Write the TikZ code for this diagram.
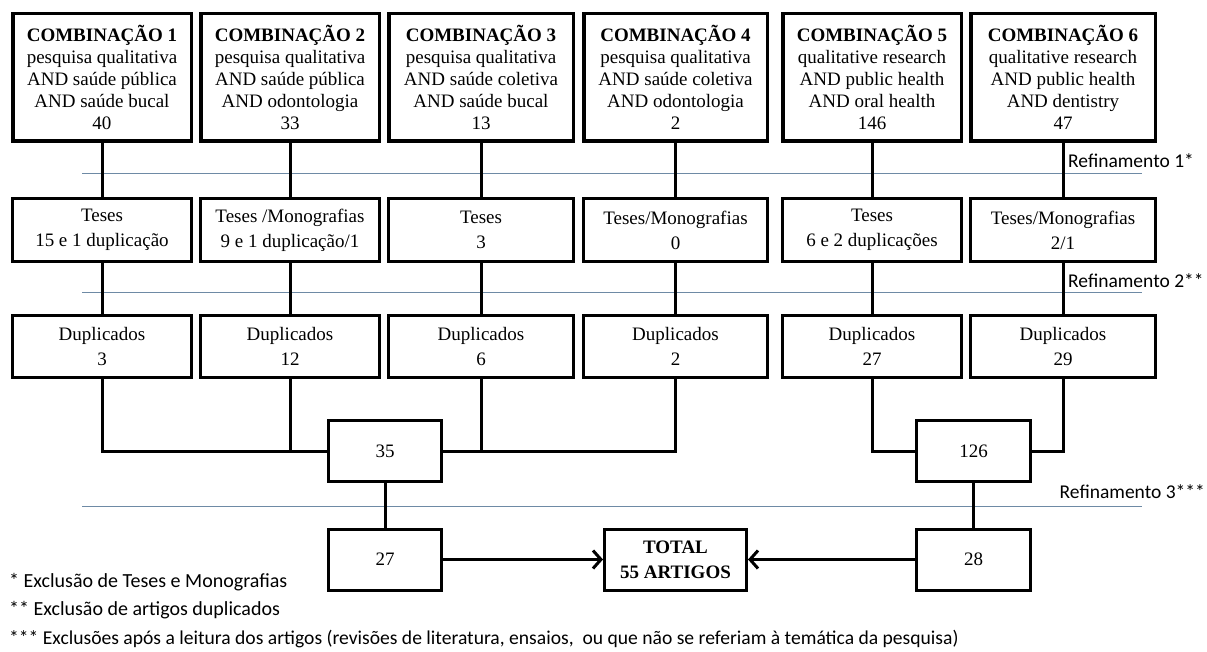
\documentclass[tikz,border=0pt]{standalone}
\usepackage{fontspec}
\setmainfont{Liberation Serif}
\newfontfamily\calibrifont{Carlito}
\usetikzlibrary{arrows.meta}
\begin{document}
\begin{tikzpicture}[x=1pt,y=-1pt,
  box/.style={draw, line width=3pt, inner sep=0pt, align=center, font=\fontsize{19}{25}\selectfont},
  topbox/.style={box, line width=3.5pt, minimum width=#1, minimum height=127.5pt, font=\fontsize{19}{22}\selectfont},
  midbox/.style={box, minimum width=#1, minimum height=63pt},
  lowbox/.style={box, minimum width=#1, minimum height=62pt},
  sumbox/.style={box, minimum width=#1, minimum height=61pt},
  conn/.style={line width=3pt},
  arr/.style={line width=3pt, -{Straight Barb[length=8pt,width=18pt,line width=3pt]}},
  refline/.style={line width=1pt, draw={rgb,255:red,110;green,138;blue,165}},
  reflabel/.style={inner sep=0pt, font=\calibrifont\fontsize{19.5}{22}\selectfont},
  foot/.style={anchor=west, inner sep=0pt, font=\calibrifont\fontsize{20}{22}\selectfont}
]
\useasboundingbox (0,0) rectangle (1207,652);
% refinement lines
\coordinate (r1a) at (82,174); \coordinate (r1b) at (1142,174);
\coordinate (r2a) at (82,293); \coordinate (r2b) at (1142,293);
\coordinate (r3a) at (82,506); \coordinate (r3b) at (1142,506);
\draw[refline] (r1a) -- (r1b);
\draw[refline] (r2a) -- (r2b);
\draw[refline] (r3a) -- (r3b);
\node[reflabel, anchor=west] (ref1) at (1068,161) {Refinamento 1*};
\node[reflabel, anchor=west] (ref2) at (1068,281) {Refinamento 2**};
\node[reflabel, anchor=east] (ref3) at (1205,492) {Refinamento 3***};
% top row
\node[topbox=178.5pt] (c1) at (102,77.5) {\textbf{COMBINAÇÃO 1}\\pesquisa qualitativa\\AND saúde pública\\AND saúde bucal\\40};
\node[topbox=178.5pt] (c2) at (290,77.5) {\textbf{COMBINAÇÃO 2}\\pesquisa qualitativa\\AND saúde pública\\AND odontologia\\33};
\node[topbox=184.5pt] (c3) at (481,77.5) {\textbf{COMBINAÇÃO 3}\\pesquisa qualitativa\\AND saúde coletiva\\AND saúde bucal\\13};
\node[topbox=183.5pt] (c4) at (675.5,77.5) {\textbf{COMBINAÇÃO 4}\\pesquisa qualitativa\\AND saúde coletiva\\AND odontologia\\2};
\node[topbox=178.5pt] (c5) at (872,77.5) {\textbf{COMBINAÇÃO 5}\\qualitative research\\AND public health\\AND oral health\\146};
\node[topbox=184.5pt] (c6) at (1063,77.5) {\textbf{COMBINAÇÃO 6}\\qualitative research\\AND public health\\AND dentistry\\47};
% second row
\node[midbox=179pt] (t1) at (102,230) {Teses\\15 e 1 duplicação};
\node[midbox=179pt] (t2) at (290,230) {Teses /Monografias\\9 e 1 duplicação/1};
\node[midbox=185pt] (t3) at (481,230) {Teses\\3};
\node[midbox=184pt] (t4) at (675.5,230) {Teses/Monografias\\0};
\node[midbox=179pt] (t5) at (872,230) {Teses\\6 e 2 duplicações};
\node[midbox=185pt] (t6) at (1063,230) {Teses/Monografias\\2/1};
% third row
\node[lowbox=179pt] (d1) at (102,346.5) {Duplicados\\3};
\node[lowbox=179pt] (d2) at (290,346.5) {Duplicados\\12};
\node[lowbox=185pt] (d3) at (481,346.5) {Duplicados\\6};
\node[lowbox=184pt] (d4) at (675.5,346.5) {Duplicados\\2};
\node[lowbox=179pt] (d5) at (872,346.5) {Duplicados\\27};
\node[lowbox=185pt] (d6) at (1063,346.5) {Duplicados\\29};
% sums
\node[sumbox=113pt] (s35) at (385,451) {35};
\node[sumbox=114pt] (s126) at (973.5,451) {126};
\node[sumbox=113pt] (s27) at (385,559.5) {27};
\node[sumbox=114pt] (s28) at (973.5,559.5) {28};
\node[sumbox=142pt, font=\bfseries\fontsize{19}{25}\selectfont] (total) at (675.5,559.5) {TOTAL\\55 ARTIGOS};
% connectors
\foreach \i in {1,...,6}{
  \draw[conn] (c\i) -- (t\i);
  \draw[conn] (t\i) -- (d\i);
}
\draw[conn] (d1.south) |- (s35.west);
\draw[conn] (d2.south) -- (d2.south |- s35.west);
\draw[conn] (d4.south) |- (s35.east);
\draw[conn] (d3.south) -- (d3.south |- s35.east);
\draw[conn] (d5.south) |- (s126.west);
\draw[conn] (d6.south) |- (s126.east);
\draw[conn] (s35) -- (s27);
\draw[conn] (s126) -- (s28);
\draw[arr] (s27.east) -- (total.west);
\draw[arr] (s28.west) -- (total.east);
% footnotes
\node[foot] (f1) at (9,582) {* Exclusão de Teses e Monografias};
\node[foot] (f2) at (9,610) {** Exclusão de artigos duplicados};
\node[foot, font=\calibrifont\fontsize{19.6}{22}\selectfont] (f3) at (9,639) {*** Exclusões após a leitura dos artigos (revisões de literatura, ensaios,~ ou que não se referiam à temática da pesquisa)};
\end{tikzpicture}
\end{document}
